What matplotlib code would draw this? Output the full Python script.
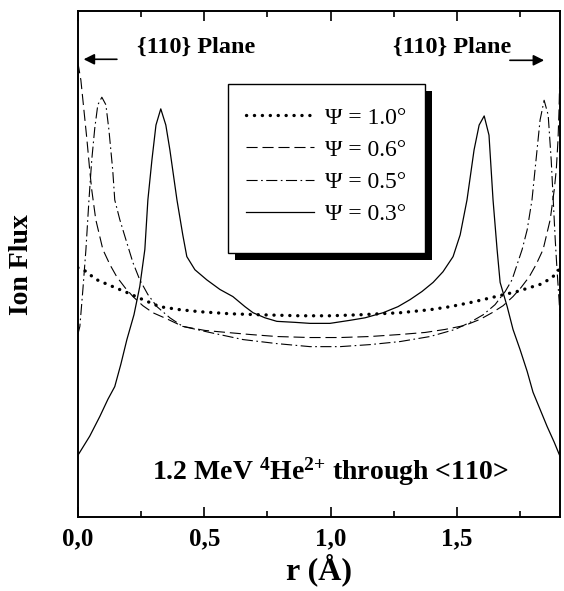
import matplotlib
matplotlib.use("Agg")
import matplotlib.pyplot as plt
from matplotlib.patches import Rectangle

plt.rcParams['font.family'] = ['Liberation Serif', 'DejaVu Serif']
plt.rcParams['mathtext.fontset'] = 'custom'
plt.rcParams['mathtext.rm'] = 'Liberation Serif:bold'
plt.rcParams['mathtext.bf'] = 'Liberation Serif:bold'
plt.rcParams['mathtext.it'] = 'Liberation Serif:bold'
plt.rcParams['lines.scale_dashes'] = False

# ---------------- data ----------------
r_03 = [0.000, 0.047, 0.087, 0.119, 0.146, 0.170, 0.194, 0.222, 0.245, 0.265, 0.277, 0.293, 0.309, 0.328,
        0.348, 0.364, 0.392, 0.415, 0.431, 0.463, 0.510, 0.562, 0.613, 0.661, 0.693, 0.740, 0.787, 0.859,
        0.918, 0.997, 1.076, 1.136, 1.207, 1.266, 1.314, 1.361, 1.405, 1.444, 1.484, 1.512, 1.539, 1.567,
        1.587, 1.607, 1.626, 1.642, 1.658, 1.670, 1.698, 1.721, 1.749, 1.777, 1.800, 1.828, 1.856, 1.884, 1.907]
f_03 = [12.2, 16.0, 19.9, 23.3, 25.8, 30.2, 35.1, 40.0, 45.6, 52.9, 62.7, 70.6, 77.5, 80.7,
        77.5, 72.6, 62.7, 55.8, 51.5, 48.9, 46.9, 45.0, 43.6, 41.6, 40.4, 39.4, 38.7, 38.5,
        38.3, 38.3, 38.9, 39.4, 40.4, 41.6, 43.0, 44.6, 46.4, 48.5, 51.5, 55.8, 62.7, 72.6,
        77.5, 79.3, 75.5, 62.7, 52.9, 46.4, 41.6, 37.1, 33.1, 28.8, 24.7, 21.3, 17.9, 14.8, 12.0]

r_10 = [0.000, 0.036, 0.067, 0.099, 0.146, 0.194, 0.257, 0.324, 0.404, 0.483, 0.601, 0.720, 0.878, 0.997,
        1.116, 1.274, 1.393, 1.472, 1.551, 1.603, 1.670, 1.737, 1.789, 1.828, 1.868, 1.892, 1.907]
f_10 = [49.3, 48.5, 47.1, 46.4, 45.4, 44.4, 43.0, 41.6, 41.0, 40.6, 40.2, 40.0, 39.8, 39.8,
        40.0, 40.4, 41.0, 41.6, 42.4, 43.0, 43.8, 44.6, 45.4, 46.0, 47.1, 48.1, 49.3]

r_06 = [0.000, 0.012, 0.024, 0.036, 0.047, 0.055, 0.071, 0.099, 0.127, 0.154, 0.186, 0.218, 0.257, 0.297,
        0.356, 0.415, 0.503, 0.590, 0.681, 0.787, 0.918, 1.037, 1.155, 1.274, 1.373, 1.452, 1.531, 1.591,
        1.638, 1.682, 1.721, 1.753, 1.785, 1.812, 1.840, 1.868, 1.884, 1.892, 1.899, 1.903, 1.907]
f_06 = [89.9, 86.4, 80.5, 74.6, 68.6, 64.7, 58.8, 52.9, 49.9, 47.5, 45.4, 43.6, 41.8, 40.4,
        39.1, 37.7, 36.9, 36.5, 36.1, 35.7, 35.5, 35.5, 35.7, 36.1, 36.5, 37.1, 37.9, 39.1,
        40.4, 41.8, 43.6, 45.4, 47.5, 49.9, 52.9, 58.8, 64.7, 68.6, 74.6, 80.5, 89.3]

r_05 = [0.000, 0.008, 0.020, 0.032, 0.044, 0.055, 0.067, 0.079, 0.095, 0.111, 0.123, 0.138, 0.146, 0.166,
        0.194, 0.218, 0.245, 0.277, 0.313, 0.364, 0.415, 0.522, 0.653, 0.787, 0.918, 1.037, 1.155, 1.274,
        1.393, 1.492, 1.551, 1.603, 1.650, 1.690, 1.717, 1.737, 1.757, 1.777, 1.796, 1.812, 1.828, 1.844,
        1.860, 1.872, 1.880, 1.888, 1.895, 1.903, 1.907]
f_05 = [36.1, 37.7, 45.0, 52.9, 62.7, 70.6, 76.9, 81.5, 83.0, 81.5, 76.5, 68.6, 62.7, 58.8,
        54.2, 50.3, 46.9, 44.0, 41.6, 39.4, 37.7, 36.5, 35.1, 34.3, 33.7, 33.7, 34.1, 34.7,
        35.7, 37.1, 38.5, 40.0, 42.0, 44.6, 46.9, 49.9, 52.9, 56.8, 62.7, 70.6, 78.5, 82.4,
        79.5, 70.6, 62.7, 54.8, 48.9, 43.0, 39.6]

labels = ['\u03A8 = 1.0\u00B0', '\u03A8 = 0.6\u00B0', '\u03A8 = 0.5\u00B0', '\u03A8 = 0.3\u00B0']
xtick_values = [0.0, 0.5, 1.0, 1.5]
xtick_labels = ['0,0', '0,5', '1,0', '1,5']

# ---------------- figure ----------------
fig = plt.figure(figsize=(5.64, 5.91), dpi=100)
ax = fig.add_axes([0.138, 0.125, 0.855, 0.856])

ax.plot(r_10, f_10, color='black', lw=2.4, linestyle=(0, (0.1, 5.6)),
        dash_capstyle='round', label=labels[0])
ax.plot(r_06, f_06, color='black', lw=0.8, linestyle=(0, (8, 3.5)), label=labels[1])
ax.plot(r_05, f_05, color='black', lw=0.8, linestyle=(0, (8, 2.5, 1.2, 2.5)), label=labels[2])
ax.plot(r_03, f_03, color='black', lw=0.9, linestyle='-', label=labels[3])

ax.set_xlim(0, 1.907)
ax.set_ylim(0, 100)

ax.set_xticks(xtick_values)
ax.set_xticklabels(xtick_labels, fontsize=18, fontweight='bold')
ax.set_xticks([0.25, 0.75, 1.25, 1.75], minor=True)
ax.tick_params(axis='x', which='major', direction='in', length=7, width=1.2, top=True, pad=7)
ax.tick_params(axis='x', which='minor', direction='in', length=4, width=1.2, top=True)
ax.set_yticks([])
for s in ax.spines.values():
    s.set_linewidth(1.4)

ax.set_xlabel('r (\u00C5)', fontsize=23, fontweight='bold')
ax.xaxis.set_label_coords(0.5, -0.072)
ax.set_ylabel('Ion Flux', fontsize=20, fontweight='bold')
ax.yaxis.set_label_coords(-0.09, 0.5)

# plane annotations
ax.text(0.245, 0.929, '{110} Plane', transform=ax.transAxes, ha='center', va='center',
        fontsize=17.5, fontweight='bold')
ax.text(0.776, 0.929, '{110} Plane', transform=ax.transAxes, ha='center', va='center',
        fontsize=17.5, fontweight='bold')
ax.annotate('', xy=(0.012, 0.905), xytext=(0.081, 0.905), xycoords='axes fraction',
            arrowprops=dict(arrowstyle='-|>', color='black', lw=1.2, mutation_scale=16,
                            shrinkA=0, shrinkB=0))
ax.annotate('', xy=(0.967, 0.903), xytext=(0.896, 0.903), xycoords='axes fraction',
            arrowprops=dict(arrowstyle='-|>', color='black', lw=1.2, mutation_scale=16,
                            shrinkA=0, shrinkB=0))

ax.text(0.523, 0.089, r'1.2 MeV $^{4}$He$^{2{+}}$ through <110>',
        transform=ax.transAxes, ha='center', va='center', fontsize=20, fontweight='bold')

# legend box with shadow
bx, by, bw, bh = 0.311, 0.522, 0.409, 0.334
ax.add_patch(Rectangle((bx + 7 / 482, by - 7 / 506), bw, bh, transform=ax.transAxes,
                       facecolor='black', edgecolor='black', lw=0, zorder=4))
ax.add_patch(Rectangle((bx, by), bw, bh, transform=ax.transAxes,
                       facecolor='white', edgecolor='black', lw=1.0, zorder=4.5))
leg = ax.legend(loc='center', bbox_to_anchor=(0.515, 0.694), frameon=False, fontsize=17,
                handlelength=2.9, handletextpad=0.45, labelspacing=0.45, borderpad=0)
leg.set_zorder(6)

fig.savefig('out.png', dpi=100)
